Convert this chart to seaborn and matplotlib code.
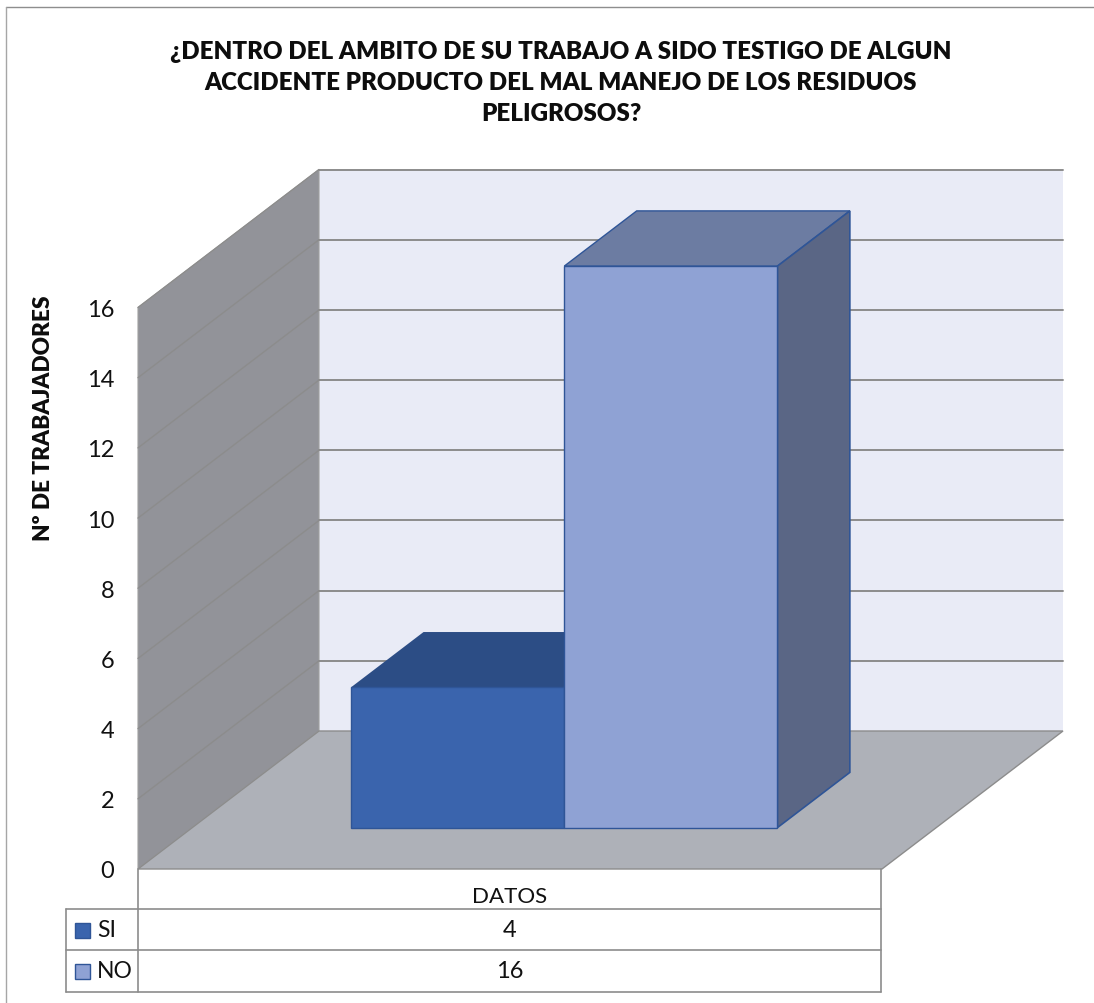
import matplotlib
matplotlib.use("Agg")
import matplotlib.pyplot as plt
import numpy as np
import pandas as pd
import seaborn as sns
from matplotlib.patches import Polygon, Rectangle
from matplotlib.lines import Line2D
from matplotlib.transforms import Affine2D, IdentityTransform

# --- data ---
categories = ["DATOS"]
series_names = ["SI", "NO"]
series_values = [4, 16]
y_ticks = [0, 2, 4, 6, 8, 10, 12, 14, 16]
title_text = ("¿DENTRO DEL AMBITO DE SU TRABAJO A SIDO TESTIGO DE ALGUN\n"
              "ACCIDENTE PRODUCTO DEL MAL MANEJO DE LOS RESIDUOS\n"
              "PELIGROSOS?")
y_label = "Nº DE TRABAJADORES"

W, H = 1094, 1004
DX, DY = 181, 138          # depth vector of the 3-D box, pixels
BAR_D0, BAR_D1 = 0.30, 0.70  # front and back of the bars, as fraction of depth

front_colors = ["#3A64AD", "#8FA2D4"]
top_colors = ["#2C4D85", "#6C7CA2"]
side_colors = ["#2C4D85", "#5A6685"]
edge_color = "#2F5597"
grid_color = "#8C8C8C"

sns.set_theme(style="white")
plt.rcParams["font.family"] = ["Lato", "DejaVu Sans"]

fig = plt.figure(figsize=(W / 100, H / 100), dpi=100, facecolor="white")
L, R, T, B = 138, 882, 308.5, 870
ax = fig.add_axes([L / W, 1 - B / H, (R - L) / W, (B - T) / H])
ax.patch.set_visible(False)

df = pd.DataFrame({"categoria": categories * len(series_names),
                   "serie": series_names, "valor": series_values})
sns.barplot(data=df, x="categoria", y="valor", hue="serie", hue_order=series_names,
            palette=front_colors, saturation=1, width=0.573, gap=0, dodge=True, legend=False,
            ax=ax, edgecolor=edge_color, linewidth=1.0)
ax.set_xlim(-0.5, 0.5)
ax.set_ylim(0, 16)
ax.set_xlabel("")
ax.set_ylabel("")
ax.set_xticks([])
ax.set_yticks(y_ticks)
ax.tick_params(axis="y", length=0, pad=17, labelsize=17, labelcolor="#111111")
sns.despine(ax=ax, left=True, bottom=True, top=True, right=True)
fig.canvas.draw()


def P(x, v, d=0.0):
    px = ax.transData.transform((x, v))
    return (px[0] + d * DX, px[1] + d * DY)


def poly(points, color, z, edge="none", lw=0.0):
    ax.add_patch(Polygon(points, closed=True, facecolor=color, edgecolor=edge, linewidth=lw,
                         transform=IdentityTransform(), clip_on=False, zorder=z))


def seg(a, b, color=grid_color, lw=1.4, z=0.3):
    ax.add_line(Line2D([a[0], b[0]], [a[1], b[1]], color=color, lw=lw,
                       transform=IdentityTransform(), clip_on=False, zorder=z))


x0, x1 = ax.get_xlim()
vmax = y_ticks[-1]
# walls and floor
poly([P(x0, 0, 1), P(x1, 0, 1), P(x1, vmax, 1), P(x0, vmax, 1)], "#E9EBF6", 0.1)
poly([P(x0, 0), P(x0, 0, 1), P(x0, vmax, 1), P(x0, vmax)], "#929399", 0.1, "#A0A0A0", 0.8)
poly([P(x0, 0), P(x1, 0), P(x1, 0, 1), P(x0, 0, 1)], "#AEB1B8", 0.2, grid_color, 1.0)
for v in y_ticks[1:]:
    seg(P(x0, v, 1), P(x1, v, 1))
    seg(P(x0, v), P(x0, v, 1), lw=1.0)

# bars: seaborn's rectangles pushed back on the floor, with top and side faces
push = Affine2D().translate(BAR_D0 * DX, BAR_D0 * DY)
for i, patch in enumerate(ax.patches[:2]):
    xa, xb = patch.get_x(), patch.get_x() + patch.get_width()
    val = patch.get_height()
    z = 3 + i
    patch.set_transform(ax.transData + push)
    patch.set_clip_on(False)
    patch.set_zorder(z + 0.2)
    poly([P(xa, val, BAR_D0), P(xb, val, BAR_D0), P(xb, val, BAR_D1), P(xa, val, BAR_D1)],
         top_colors[i], z, edge_color if i else "none", 1.0)
    poly([P(xb, 0, BAR_D0), P(xb, val, BAR_D0), P(xb, val, BAR_D1), P(xb, 0, BAR_D1)],
         side_colors[i], z + 0.1, edge_color, 1.2)


# --- figure-level decoration in pixel positions ---
def fx(x):
    return x / W


def fy(y):
    return 1 - y / H


def fline(xs, ys, color="#8C8C8C", lw=1.2):
    fig.add_artist(Line2D([fx(x) for x in xs], [fy(y) for y in ys], color=color, lw=lw,
                          transform=fig.transFigure))


fline([6, 1094], [8, 8], "#8E8E8E", 1.0)
fline([6, 6], [8, 1004], "#A6A6A6", 1.0)

fig.text(fx(561), fy(83), title_text, ha="center", va="center", fontsize=17.4,
         fontweight=800, color="#0D0D0D", linespacing=1.52)
fig.text(fx(44), fy(418), y_label, ha="center", va="center", rotation=90,
         fontsize=16.3, fontweight=800, color="#0D0D0D")

# data table
rows = [910, 951, 993]
fline([138, 138], [870, 993])
fline([881, 881], [870, 993])
fline([66, 881], [rows[0], rows[0]])
fline([66, 881], [rows[1], rows[1]])
fline([66, 881], [rows[2], rows[2]])
fline([66, 66], [rows[0], rows[2]])
fig.text(fx(510), fy(897), categories[0], ha="center", va="center", fontsize=16, color="#111111")
for i, name in enumerate(series_names):
    yc = (rows[i] + rows[i + 1]) / 2
    fig.add_artist(Rectangle((fx(75), fy(yc + 8)), 15 / W, 15 / H, facecolor=front_colors[i],
                             edgecolor=edge_color, lw=1.0, transform=fig.transFigure))
    fig.text(fx(97), fy(yc), name, ha="left", va="center", fontsize=16.5, color="#111111")
    fig.text(fx(510), fy(yc), str(series_values[i]), ha="center", va="center", fontsize=17, color="#111111")

fig.savefig("out.png", dpi=100, facecolor="white")
